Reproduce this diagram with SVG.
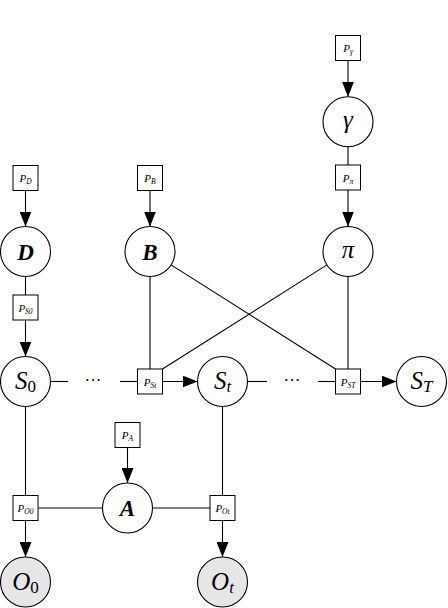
<svg xmlns="http://www.w3.org/2000/svg" width="448" height="608" viewBox="0 0 448 608">
<defs>
<marker id="arr" markerUnits="userSpaceOnUse" markerWidth="15" markerHeight="12" refX="15" refY="6" orient="auto">
<path d="M0,0 L15,6 L0,12 z" fill="#000"/>
</marker>
<style>
.c{fill:#fff;stroke:#000;stroke-width:1.1}
.o{fill:#e6e6e6;stroke:#000;stroke-width:1.1}
.b{fill:#fff;stroke:#000;stroke-width:1}
.l{stroke:#000;stroke-width:1.1;fill:none}
.a{stroke:#000;stroke-width:1.1;fill:none;marker-end:url(#arr)}
.m{font-family:"Liberation Serif",serif;font-style:italic;font-size:25px;text-anchor:middle}
.mb{font-family:"Liberation Serif",serif;font-style:italic;font-weight:bold;font-size:23px;text-anchor:middle}
.s{font-style:normal;font-size:17px}
.si{font-size:17px}
.p{font-family:"Liberation Serif",serif;font-style:italic;font-size:11px;text-anchor:middle}
.ps{font-size:7.5px}
.d{font-family:"Liberation Serif",serif;font-size:17px;text-anchor:middle}
</style>
</defs>
<g id="connectors">
<line class="a" x1="348" y1="60.5" x2="348" y2="96.7"/>
<line class="l" x1="348" y1="146.7" x2="348" y2="165"/>
<line class="a" x1="348" y1="190" x2="348" y2="226.5"/>
<line class="a" x1="25.5" y1="190.5" x2="25.5" y2="226.5"/>
<line class="a" x1="150" y1="190.5" x2="150" y2="226.5"/>
<line class="l" x1="25.5" y1="276.5" x2="25.5" y2="295"/>
<line class="a" x1="25.5" y1="320" x2="25.5" y2="356.5"/>
<line class="l" x1="50.5" y1="381.5" x2="68" y2="381.5"/>
<line class="l" x1="120" y1="381.5" x2="137.5" y2="381.5"/>
<line class="a" x1="162.5" y1="381.5" x2="197.5" y2="381.5"/>
<line class="l" x1="247.5" y1="381.5" x2="267" y2="381.5"/>
<line class="l" x1="318" y1="381.5" x2="335.5" y2="381.5"/>
<line class="a" x1="360.5" y1="381.5" x2="396.5" y2="381.5"/>
<line class="l" x1="150" y1="276.5" x2="150" y2="369"/>
<line class="l" x1="348" y1="276.5" x2="348" y2="369"/>
<line class="l" x1="171.1" y1="264.9" x2="335.5" y2="369"/>
<line class="l" x1="326.9" y1="264.9" x2="162.5" y2="369"/>
<line class="l" x1="25.5" y1="406.5" x2="25.5" y2="495.5"/>
<line class="a" x1="25.5" y1="520.5" x2="25.5" y2="557"/>
<line class="l" x1="38" y1="508" x2="102.5" y2="508"/>
<line class="l" x1="152.5" y1="508" x2="210.5" y2="508"/>
<line class="l" x1="222.5" y1="406.5" x2="222.5" y2="495.5"/>
<line class="a" x1="222.5" y1="520.5" x2="222.5" y2="557"/>
<line class="a" x1="127.5" y1="447.5" x2="127.5" y2="483"/>
<text class="d" x="93" y="386">···</text>
<text class="d" x="292" y="386">···</text>
</g>
<g id="P_gamma"><rect class="b" x="335.5" y="35.5" width="25" height="25"/><text class="p" x="348" y="52">P<tspan class="ps" dy="2">γ</tspan></text></g>
<g id="gamma"><circle class="c" cx="348" cy="121.7" r="25"/><text class="m" x="348" y="128">γ</text></g>
<g id="P_pi"><rect class="b" x="335.5" y="165" width="25" height="25"/><text class="p" x="348" y="181.5">P<tspan class="ps" dy="2">π</tspan></text></g>
<g id="pi"><circle class="c" cx="348" cy="251.5" r="25"/><text class="m" x="348" y="258">π</text></g>
<g id="P_D"><rect class="b" x="13" y="165.5" width="25" height="25"/><text class="p" x="25.5" y="182">P<tspan class="ps" dy="2">D</tspan></text></g>
<g id="D"><circle class="c" cx="25.5" cy="251.5" r="25"/><text class="mb" x="25.5" y="259.5">D</text></g>
<g id="P_B"><rect class="b" x="137.5" y="165.5" width="25" height="25"/><text class="p" x="150" y="182">P<tspan class="ps" dy="2">B</tspan></text></g>
<g id="B"><circle class="c" cx="150" cy="251.5" r="25"/><text class="mb" x="150" y="259.5">B</text></g>
<g id="P_S0"><rect class="b" x="13" y="295" width="25" height="25"/><text class="p" x="25.5" y="311.5">P<tspan class="ps" dy="2">S0</tspan></text></g>
<g id="S0"><circle class="c" cx="25.5" cy="381.5" r="25"/><text class="m" x="25.5" y="389">S<tspan class="s" dy="3">0</tspan></text></g>
<g id="P_St"><rect class="b" x="137.5" y="369" width="25" height="25"/><text class="p" x="150" y="385.5">P<tspan class="ps" dy="2">St</tspan></text></g>
<g id="St"><circle class="c" cx="222.5" cy="381.5" r="25"/><text class="m" x="222.5" y="389">S<tspan class="si" dy="3">t</tspan></text></g>
<g id="P_ST"><rect class="b" x="335.5" y="369" width="25" height="25"/><text class="p" x="348" y="385.5">P<tspan class="ps" dy="2">ST</tspan></text></g>
<g id="ST"><circle class="c" cx="421.5" cy="381.5" r="25"/><text class="m" x="421.5" y="389">S<tspan class="si" dy="3">T</tspan></text></g>
<g id="P_A"><rect class="b" x="115" y="422.5" width="25" height="25"/><text class="p" x="127.5" y="439">P<tspan class="ps" dy="2">A</tspan></text></g>
<g id="A"><circle class="c" cx="127.5" cy="508" r="25"/><text class="mb" x="127.5" y="516">A</text></g>
<g id="P_O0"><rect class="b" x="13" y="495.5" width="25" height="25"/><text class="p" x="25.5" y="512">P<tspan class="ps" dy="2">O0</tspan></text></g>
<g id="O0"><circle class="o" cx="25.5" cy="582" r="25"/><text class="m" x="25.5" y="589.5">O<tspan class="s" dy="3">0</tspan></text></g>
<g id="P_Ot"><rect class="b" x="210" y="495.5" width="25" height="25"/><text class="p" x="222.5" y="512">P<tspan class="ps" dy="2">Ot</tspan></text></g>
<g id="Ot"><circle class="o" cx="222.5" cy="582" r="25"/><text class="m" x="222.5" y="589.5">O<tspan class="si" dy="3">t</tspan></text></g>
</svg>
